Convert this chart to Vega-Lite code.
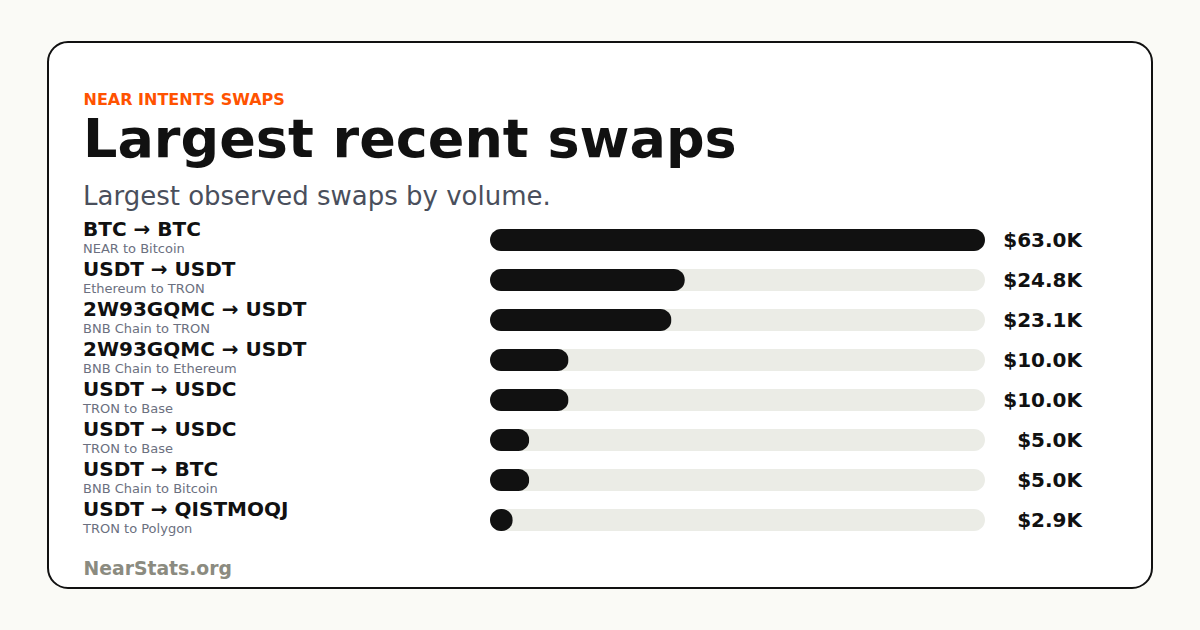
{
  "$schema": "https://vega.github.io/schema/vega-lite/v6.json",
  "width": 1104,
  "height": 546,
  "autosize": {"type": "none"},
  "padding": {"left": 48, "top": 42, "right": 48, "bottom": 42},
  "background": "#fafaf6",
  "title": {
    "text": "Largest recent swaps",
    "subtitle": "Largest observed swaps by volume.",
    "anchor": "start",
    "frame": "group",
    "orient": "top",
    "offset": -168,
    "dx": 35,
    "font": "DejaVu Sans",
    "fontSize": 54,
    "fontWeight": "bold",
    "color": "#111111",
    "subtitleFont": "DejaVu Sans",
    "subtitleFontSize": 26,
    "subtitleColor": "#4a4f5c",
    "subtitlePadding": 16
  },
  "data": {
    "values": [
      {"rank": 1, "pair": "BTC → BTC", "route": "NEAR to Bitcoin", "volume": 63.0},
      {"rank": 2, "pair": "USDT → USDT", "route": "Ethereum to TRON", "volume": 24.8},
      {"rank": 3, "pair": "2W93GQMC → USDT", "route": "BNB Chain to TRON", "volume": 23.1},
      {"rank": 4, "pair": "2W93GQMC → USDT", "route": "BNB Chain to Ethereum", "volume": 10.0},
      {"rank": 5, "pair": "USDT → USDC", "route": "TRON to Base", "volume": 10.0},
      {"rank": 6, "pair": "USDT → USDC", "route": "TRON to Base", "volume": 5.0},
      {"rank": 7, "pair": "USDT → BTC", "route": "BNB Chain to Bitcoin", "volume": 5.0},
      {"rank": 8, "pair": "USDT → QISTMOQJ", "route": "TRON to Polygon", "volume": 2.9}
    ]
  },
  "transform": [
    {"joinaggregate": [{"op": "max", "field": "volume", "as": "maxVolume"}]}
  ],
  "encoding": {
    "y": {
      "field": "rank",
      "type": "ordinal",
      "scale": {"type": "point", "range": [198, 478], "padding": 0},
      "axis": {
        "title": "NearStats.org",
        "titleAngle": 0,
        "titleX": 35,
        "titleY": 532,
        "titleAlign": "left",
        "titleBaseline": "alphabetic",
        "titleFont": "DejaVu Sans",
        "titleFontSize": 18.8,
        "titleFontWeight": "bold",
        "titleColor": "#8b8b80",
        "labels": false,
        "ticks": false,
        "domain": false,
        "grid": false
      }
    }
  },
  "layer": [
    {
      "mark": {"type": "bar", "height": 22, "cornerRadius": 11, "color": "#ebece6"},
      "encoding": {
        "x": {
          "field": "maxVolume",
          "type": "quantitative",
          "scale": {"range": [442, 937], "nice": false, "zero": true},
          "axis": {"orient": "top", "title": "NEAR INTENTS SWAPS"}
        }
      }
    },
    {
      "mark": {"type": "bar", "height": 22, "cornerRadius": 11, "color": "#111111"},
      "encoding": {
        "x": {
          "field": "volume",
          "type": "quantitative",
          "axis": {"orient": "top", "title": "NEAR INTENTS SWAPS"}
        }
      }
    },
    {
      "mark": {"type": "text", "align": "left", "baseline": "alphabetic", "dx": -407, "dy": -4, "font": "DejaVu Sans", "fontSize": 20, "fontWeight": "bold", "color": "#111111"},
      "encoding": {
        "x": {"datum": 0, "type": "quantitative", "axis": {"orient": "top", "title": "NEAR INTENTS SWAPS"}},
        "text": {"field": "pair"}
      }
    },
    {
      "mark": {"type": "text", "align": "left", "baseline": "alphabetic", "dx": -407, "dy": 12.5, "font": "DejaVu Sans", "fontSize": 13, "color": "#6b7080"},
      "encoding": {
        "x": {"datum": 0, "type": "quantitative", "axis": {"orient": "top", "title": "NEAR INTENTS SWAPS"}},
        "text": {"field": "route"}
      }
    },
    {
      "mark": {"type": "text", "align": "right", "baseline": "alphabetic", "dx": 97, "dy": 7, "font": "DejaVu Sans", "fontSize": 20, "fontWeight": "bold", "color": "#111111"},
      "encoding": {
        "x": {"field": "maxVolume", "type": "quantitative", "axis": {"orient": "top", "title": "NEAR INTENTS SWAPS"}},
        "text": {"field": "volume", "type": "quantitative", "format": "$.1f"}
      }
    }
  ],
  "config": {
    "locale": {"number": {"decimal": ".", "thousands": ",", "grouping": [3], "currency": ["$", "K"]}},
    "view": {"fill": "#ffffff", "stroke": "#111111", "strokeWidth": 2, "cornerRadius": 20},
    "axisX": {
      "domain": false,
      "ticks": false,
      "labels": false,
      "grid": false,
      "titleX": 35,
      "titleY": 62,
      "titleAlign": "left",
      "titleAnchor": null,
      "titleBaseline": "alphabetic",
      "titleFont": "DejaVu Sans",
      "titleFontSize": 16,
      "titleFontWeight": "bold",
      "titleColor": "#ff5200"
    }
  }
}
